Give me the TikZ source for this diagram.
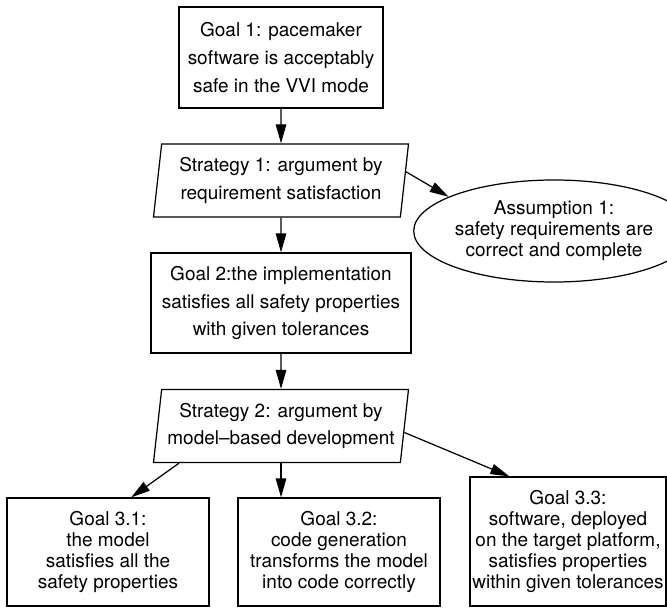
\documentclass[tikz,border=0pt]{standalone}
\usepackage{fontspec}
\setmainfont{TeX Gyre Heros}
\usepackage{tikz}
\usetikzlibrary{shapes.geometric,arrows.meta}

\begin{document}
\begin{tikzpicture}[
    goalbox/.style={draw, line width=0.7pt, rectangle, align=center, inner sep=0pt,
      font=\fontsize{10.8}{15.9}\selectfont},
    lowgoal/.style={goalbox, font=\fontsize{10.8}{11.9}\selectfont},
    strategybox/.style={draw, line width=0.7pt, trapezium, trapezium left angle=80,
      trapezium right angle=100, trapezium stretches body, align=center, inner sep=0pt,
      minimum height=1.46cm, minimum width=5.1cm, font=\fontsize{10.8}{15.9}\selectfont},
    assumption/.style={draw, line width=0.7pt, ellipse, align=center, inner sep=0pt,
      minimum width=4.44cm, minimum height=2.04cm, font=\fontsize{10.8}{11.9}\selectfont},
    link/.style={line width=0.7pt, -{Triangle[length=3.8mm,width=2.1mm]}}
  ]
  \useasboundingbox (0,0) rectangle (13.34,-12.16);

  % Top goal and first strategy
  \node[goalbox, minimum width=4.08cm, minimum height=2.02cm] (goal1) at (5.62,-1.15)
    {Goal 1: pacemaker\\software is acceptably\\safe in the VVI mode};
  \node[strategybox] (strat1) at (5.62,-3.61)
    {Strategy 1: argument by\\requirement satisfaction};
  \node[assumption] (assume1) at (11.08,-4.62)
    {Assumption 1:\\safety requirements are\\correct and complete};

  % Second goal and strategy
  \node[goalbox, minimum width=5.2cm, minimum height=2.0cm] (goal2) at (5.62,-6.06)
    {Goal 2:the implementation\\satisfies all safety properties\\with given tolerances};
  \node[strategybox] (strat2) at (5.62,-8.52)
    {Strategy 2: argument by\\model--based development};

  % Sub goals
  \node[lowgoal, minimum width=4.04cm, minimum height=2.16cm] (goal31) at (2.16,-11.04)
    {Goal 3.1:\\the model\\satisfies all the\\safety properties};
  \node[lowgoal, minimum width=4.04cm, minimum height=2.16cm] (goal32) at (6.78,-11.04)
    {Goal 3.2:\\code generation\\transforms the model\\into code correctly};
  \node[lowgoal, minimum width=3.92cm, minimum height=2.58cm] (goal33) at (11.36,-10.83)
    {Goal 3.3:\\software, deployed\\on the target platform,\\satisfies properties\\within given tolerances};

  % Links
  \draw[link] (goal1) -- (strat1);
  \draw[link] (strat1.4) -- (assume1.162);
  \draw[link] (strat1) -- (goal2);
  \draw[link] (goal2) -- (strat2);
  \draw[link] (strat2.200) -- (goal31.67);
  \draw[link] (strat2.south) -- (strat2.south |- goal32.north);
  \draw[link] (strat2.357) -- (goal33.132);
\end{tikzpicture}
\end{document}
